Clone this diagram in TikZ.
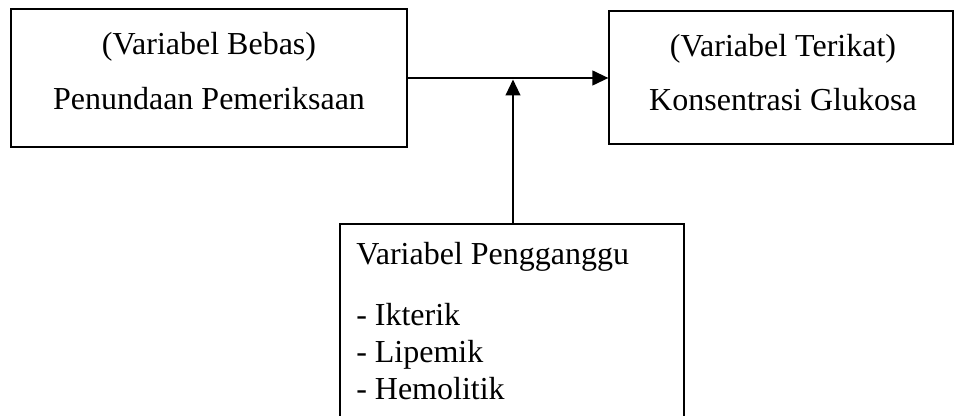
\documentclass[tikz,border=0pt]{standalone}
\usepackage{fontspec}
\setmainfont{Liberation Serif}
\usetikzlibrary{arrows.meta}
\begin{document}
\begin{tikzpicture}[x=0.75pt,y=-0.75pt,
  box/.style={draw=black,line width=0.9pt,inner sep=0pt,fill=none},
  txt/.style={font=\fontsize{24}{28}\selectfont,inner sep=0pt},
  arr/.style={line width=1.65pt,-{Triangle[length=12pt,width=11pt]}}]
\useasboundingbox (0,0) rectangle (954,416);
\clip (0,0) rectangle (954,416);
\node[box,minimum width=297pt,minimum height=103.5pt] (L) at (209,78) {};
\node[box,minimum width=258pt,minimum height=99.75pt] (R) at (781,77.5) {};
\node[box,minimum width=258pt,minimum height=184.5pt] (B) at (512,347) {};
\node[txt,anchor=base] (l1) at (209,55) {(Variabel Bebas)};
\node[txt,anchor=base] (l2) at (209,110) {Penundaan Pemeriksaan};
\node[txt,anchor=base] (r1) at (783,57) {(Variabel Terikat)};
\node[txt,anchor=base] (r2) at (783,111) {Konsentrasi Glukosa};
\node[txt,anchor=base west] (b1) at (356,265) {Variabel Pengganggu};
\node[txt,anchor=base west] (b2) at (356,326) {- Ikterik};
\node[txt,anchor=base west] (b3) at (356,363) {- Lipemik};
\node[txt,anchor=base west] (b4) at (356,400) {- Hemolitik};
\coordinate (J) at (513,79.5);
\draw[arr] (L.east) -- (L.east -| R.west);
\draw[arr] (B.north -| J) -- (J);
\end{tikzpicture}
\end{document}
